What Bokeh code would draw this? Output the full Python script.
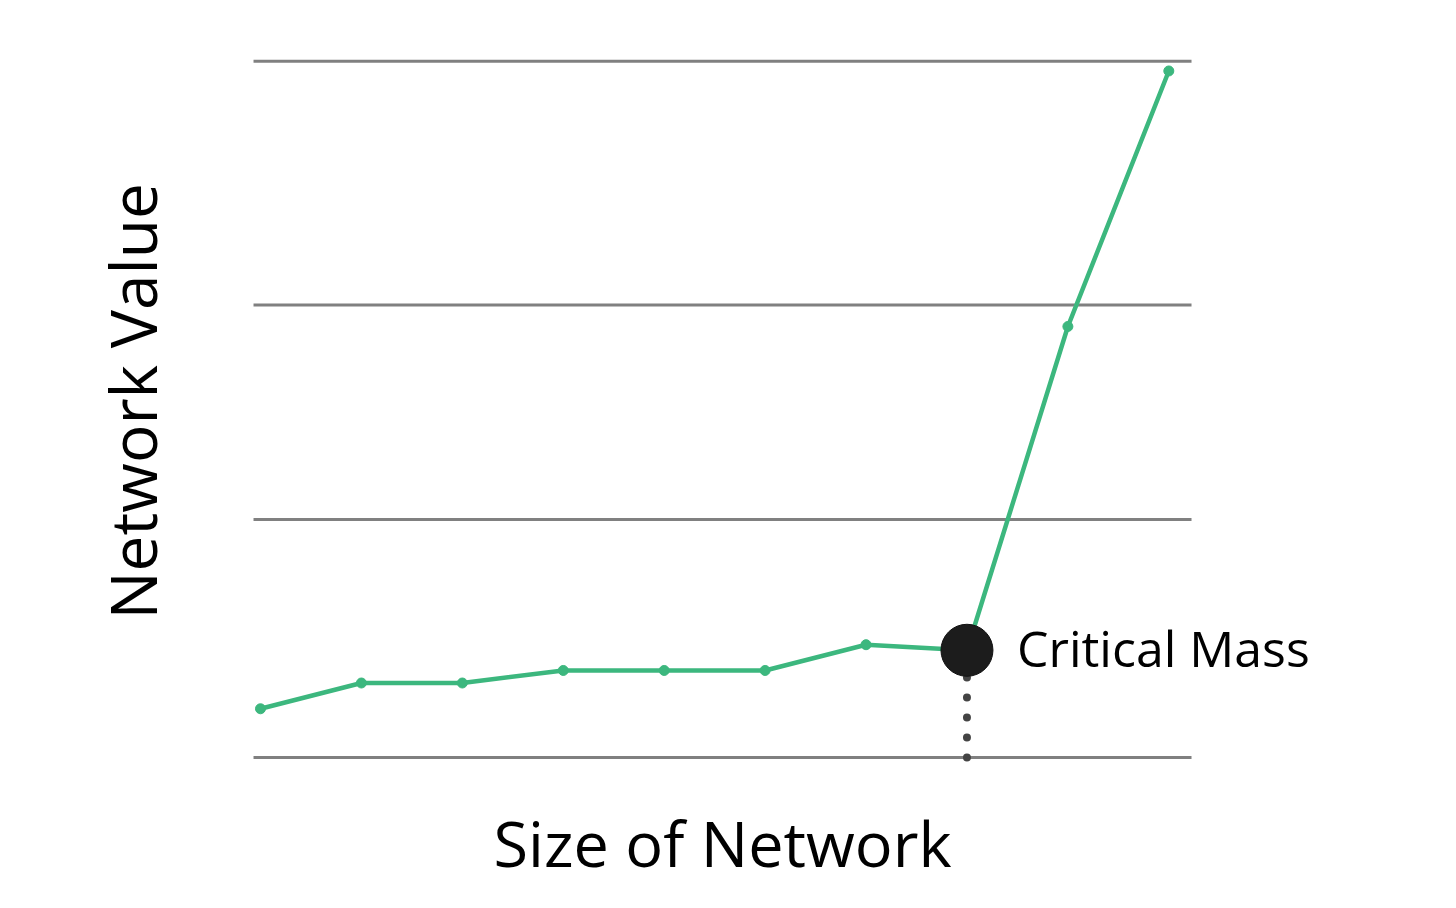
import math
from bokeh.plotting import figure
from bokeh.models import Range1d, Label
from bokeh.embed import file_html
from bokeh.resources import INLINE

# Data
network_size = [0, 1, 2, 3, 4, 5, 6, 7, 8, 9]
network_value = [7.0, 10.7, 10.7, 12.5, 12.5, 12.5, 16.2, 15.4, 61.9, 98.6]
grid_values = [0, 34.2, 65.0, 100]
critical_index = 7
critical_label = "Critical Mass"
x_label = "Size of Network"
y_label = "Network Value"

GREEN = "#3cb77e"
FONT = "Open Sans"

x_lo = network_size[0] - 0.069
x_hi = network_size[-1] + 0.225

p = figure(width=1440, height=890, output_backend="svg", toolbar_location=None,
           x_range=Range1d(-2.576, 11.692), y_range=Range1d(-19.1, 108.72),
           min_border=0)
p.outline_line_color = None
p.background_fill_color = "white"
p.border_fill_color = "white"
p.xgrid.visible = False
p.ygrid.visible = False
p.xaxis.visible = False
p.yaxis.visible = False

# horizontal guide lines
p.segment(x0=[x_lo] * len(grid_values), y0=grid_values,
          x1=[x_hi] * len(grid_values), y1=grid_values,
          line_color="#808080", line_width=3)

# axis titles
p.add_layout(Label(x=(x_lo + x_hi) / 2, y=grid_values[0], y_offset=-85, text=x_label,
                   text_font=FONT, text_font_size="63px", text_color="black",
                   text_baseline="alphabetic", text_align="center"))
p.add_layout(Label(x=x_lo, y=(grid_values[0] + grid_values[-1]) / 2,
                   x_offset=-121, y_offset=8, angle=math.pi / 2, text=y_label,
                   text_font=FONT, text_font_size="64px", text_color="black",
                   text_baseline="alphabetic", text_align="center"))

cx = network_size[critical_index]
cy = network_value[critical_index]

# dotted drop line from baseline to critical mass
p.segment(x0=[cx], y0=[grid_values[0]], x1=[cx], y1=[cy], line_color="#444444",
          line_width=8, line_dash="0 20", line_cap="round")

# main line
p.line(network_size, network_value, line_color=GREEN, line_width=4.5)
p.scatter(network_size, network_value, size=10, fill_color=GREEN, line_color=GREEN)

# critical mass marker
p.scatter([cx], [cy], size=52, fill_color="#1c1c1c", line_color="#111111", line_width=1)

p.add_layout(Label(x=cx, y=cy, x_offset=50, y_offset=2, text=critical_label,
                   text_font=FONT, text_font_size="50px", text_color="black",
                   text_baseline="alphabetic", text_align="left"))

open("out.html", "w").write(file_html(p, INLINE))
